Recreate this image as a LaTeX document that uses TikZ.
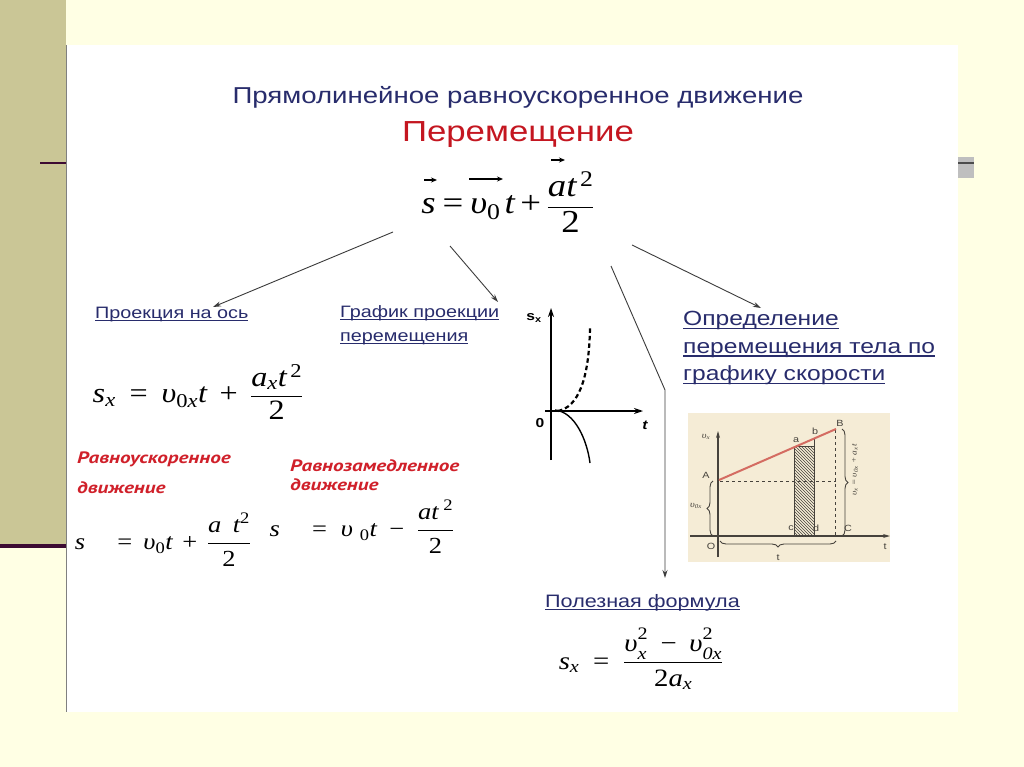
\documentclass[tikz,border=0pt]{standalone}
\usepackage{amsmath}
\usepackage{fontspec}
\setmainfont{Liberation Sans}[FakeStretch=1.2]
\newfontfamily\tms{Liberation Serif}[FakeStretch=1.15]
\newfontfamily\ptb{PT Sans}[FakeStretch=1.28]
\usetikzlibrary{arrows.meta,patterns,decorations.pathreplacing}
\definecolor{pageY}{RGB}{255,255,228}
\definecolor{khaki}{RGB}{202,198,150}
\definecolor{plum}{RGB}{60,10,50}
\definecolor{navy}{RGB}{40,44,108}
\definecolor{tred}{RGB}{196,22,32}
\definecolor{lred}{RGB}{208,32,42}
\definecolor{graphbg}{RGB}{245,236,214}
\definecolor{lnred}{RGB}{212,108,98}
\definecolor{arrgray}{RGB}{60,60,60}
\definecolor{gtext}{RGB}{70,66,60}
\newcommand\mi[1]{\text{\tms\itshape #1}}
\newcommand\mup[1]{\text{\tms #1}}
\newcommand\mEq{\mathrel{\text{\tms =}}}
\newcommand\mPl{\mathbin{\text{\tms +}}}
\newcommand\mMi{\mathbin{\text{\tms −}}}
\newcommand\tall{\vphantom{\mup{I}}}
\newcommand\hsup[1]{^{\text{\raisebox{3pt}{\tms #1}}}}
\newcommand\lsub[1]{_{\text{\raisebox{-1.5pt}{\tms\itshape #1}}}}
\newcommand\ulx[1]{\setbox0\hbox{#1}\rlap{\copy0}\rule[-0.17em]{\wd0}{0.065em}}
\begin{document}
\begin{tikzpicture}[x=1pt,y=-1pt,
  lbl/.style={text=navy, font=\fontsize{16.5}{20}\selectfont, anchor=base west, inner sep=0},
  redlbl/.style={text=lred, font=\ptb\bfseries\itshape\fontsize{16.5}{18}\selectfont, anchor=base west, inner sep=0},
  frm/.style={inner sep=0},
  arr/.style={draw=arrgray, line width=0.9, -{Stealth[length=8,width=5]}},
  vecarr/.style={draw=black, line width=1.1, -{Stealth[length=6,width=5]}},
  ax/.style={draw=black, line width=1.3, -{Stealth[length=9,width=6]}},
  gax/.style={draw=gtext, line width=1.1},
  gtxt/.style={font=\fontsize{9}{10}\selectfont, text=gtext, inner sep=0}]
\useasboundingbox (0,0) rectangle (1024,767);
% background
\fill[pageY] (0,0) rectangle (1024,767);
\fill[khaki] (0,0) rectangle (66,546);
\fill[white] (66,45) rectangle (958,712);
\draw[gray, line width=1] (66.5,45) -- (66.5,712);
\draw[plum, line width=4] (0,546) -- (66,546);
\draw[plum, line width=2.5] (40,163) -- (66,163);
\fill[black!25] (958,157) rectangle (974,178);
\draw[black!70, line width=2.5] (958,163) -- (974,163);
% titles
\node[text=navy, font=\fontsize{23}{26}\selectfont, anchor=base, inner sep=0] (title) at (518,104) {Прямолинейное равноускоренное движение};
\node[text=tred, font=\fontsize{29}{32}\selectfont, anchor=base, inner sep=0] (sub) at (518,142) {Перемещение};
\node[frm, font=\tms\fontsize{32}{38}\selectfont] (main) at (508,202) {$\mi{s}\tall\mEq\mi{υ}_{\mup{0}}\tall\,\mi{t}\mPl\dfrac{\mi{a}\tall\mi{t}^{\,\mup{2}}}{\;\mup{2}\;}$};
% vector arrows of the main formula
\draw[vecarr] (424,180) -- (437,180);
\draw[vecarr] (469,179) -- (503,179);
\draw[vecarr] (551,160) -- (565,160);
% labels
\node[lbl] (proj) at (95,318) {\ulx{Проекция на ось}};
\node[lbl, align=left, font=\fontsize{16.5}{24}\selectfont, anchor=north west] (graf) at (340,305) {\ulx{График проекции}\\\ulx{перемещения}};
\node[lbl, align=left, font=\fontsize{20.5}{27.5}\selectfont, anchor=north west] (opr) at (683,311) {\ulx{Определение}\\\ulx{перемещения тела по}\\\ulx{графику скорости}};
\node[lbl, font=\fontsize{18}{20}\selectfont] (pol) at (545,607) {\ulx{Полезная формула}};
% formulas
\node[frm, font=\tms\fontsize{28}{32}\selectfont] (fsx) at (198,392) {$\mi{s}_{\mi{x}}\;\mEq\;\mi{υ}_{\mup{0}\mi{x}}\mi{t}\;\mPl\;\dfrac{\mi{a}_{\mi{x}}\mi{t}^{\,\mup{2}}}{\mup{2}}$};
\node[redlbl] (racc1) at (77,463) {Равноускоренное};
\node[redlbl] (racc2) at (77,493) {движение};
\node[redlbl] (rdec1) at (290,471) {Равнозамедленное};
\node[redlbl] (rdec2) at (290,490) {движение};
\node[frm, font=\tms\fontsize{23}{26}\selectfont] (f1) at (163,540) {$\mi{s}\hspace{1.1em}\mEq\,\mi{υ}_{\mup{0}}\mi{t}\,\mPl\,\dfrac{\mi{a}\hspace{0.5em}\mi{t}^{\mup{2}}}{\mup{2}}$};
\node[frm, font=\tms\fontsize{23}{26}\selectfont] (f2) at (362,527) {$\mi{s}\hspace{1.1em}\mEq\;\mi{υ}\hspace{0.3em}{}_{\mup{0}}\mi{t}\;\mMi\;\dfrac{\mi{at}^{\;\mup{2}}}{\mup{2}}$};
\node[frm, font=\tms\fontsize{25}{28}\selectfont] (fuse) at (641,659) {$\mi{s}_{\mi{x}}\;\mEq\;\dfrac{\mi{υ}\hsup{2}\lsub{x}\;\mMi\;\mi{υ}\hsup{2}\lsub{\mup{0}x}}{\mup{2}\mi{a}_{\mi{x}}}$};
% arrows
\coordinate (a1s) at (393,232); \coordinate (a1e) at (213,307);
\coordinate (a2s) at (450,246); \coordinate (a2e) at (498,302);
\coordinate (a3s) at (632,245); \coordinate (a3e) at (761,308);
\coordinate (a4s) at (611,266); \coordinate (a4m) at (665,390); \coordinate (a4e) at (665,578);
\draw[arr] (a1s) -- (a1e);
\draw[arr] (a2s) -- (a2e);
\draw[arr] (a3s) -- (a3e);
\draw[arr] (a4s) -- (a4m) -- (a4e);
% small graph s_x(t)
\draw[ax] (551,460) -- (551,308);
\draw[ax] (545,411) -- (643,411);
\node[font=\bfseries\fontsize{13}{14}\selectfont, inner sep=0] (sxl) at (534,318) {s\textsubscript{x}};
\node[font=\bfseries\fontsize{13}{14}\selectfont, inner sep=0] (zero) at (540,423) {0};
\node[font=\bfseries\itshape\fontsize{13}{14}\selectfont, inner sep=0] (tl) at (645,425) {t};
\draw[black, line width=2.2, dash pattern=on 4.5pt off 3pt] (558,411) .. controls (578,407) and (589,380) .. (590,328);
\draw[black, line width=1.4] (555,410) .. controls (575,412) and (587,440) .. (590,463);
% velocity graph
\fill[graphbg] (688,413) rectangle (890,562);
\fill[pattern=north west lines, pattern color=gtext] (794,446) rectangle (814,536);
\draw[gtext, line width=0.8] (794,446) rectangle (814,536);
\draw[gtext, line width=0.8] (814,446) -- (814,438);
\draw[gtext, line width=0.9, dashed] (720,481) -- (836,481);
\draw[gtext, line width=0.9, dashed] (835,430) -- (835,536);
\draw[gax, -{Stealth[length=7,width=4]}] (718,557) -- (718,431);
\draw[gax, -{Stealth[length=7,width=4]}] (690,536) -- (890,536);
\coordinate (pA) at (719,480); \coordinate (pB) at (836,429);
\draw[lnred, line width=2] (pA) -- (pB);
\draw[gtext, line width=0.9, decorate, decoration={brace, amplitude=6pt}] (713,536) -- (713,481);
\draw[gtext, line width=0.9, decorate, decoration={brace, amplitude=6pt}] (842,429) -- (842,536);
\draw[gtext, line width=0.9, decorate, decoration={brace, amplitude=6pt, mirror}] (720,541) -- (836,541);
\node[gtxt] (lvx) at (706,437) {\tms\itshape υ\textsubscript{x}};
\node[gtxt] (lA) at (706,475) {A};
\node[gtxt] (lB) at (840,423) {B};
\node[gtxt] (la) at (796,440) {a};
\node[gtxt] (lb) at (815,431) {b};
\node[gtxt] (lc) at (791,528) {c};
\node[gtxt] (ld) at (816,528) {d};
\node[gtxt] (lC) at (848,528) {C};
\node[gtxt] (lO) at (711,546) {O};
\node[gtxt] (lt) at (885,547) {t};
\node[gtxt] (lt2) at (778,558) {t};
\node[gtxt] (lv0) at (696,506) {\tms\itshape υ\textsubscript{0x}};
\node[gtxt, rotate=90, font=\fontsize{8}{9}\selectfont] (lvf) at (855,470) {\tms\itshape υ\textsubscript{x} = υ\textsubscript{0x} + a\textsubscript{x}t};
\end{tikzpicture}
\end{document}
